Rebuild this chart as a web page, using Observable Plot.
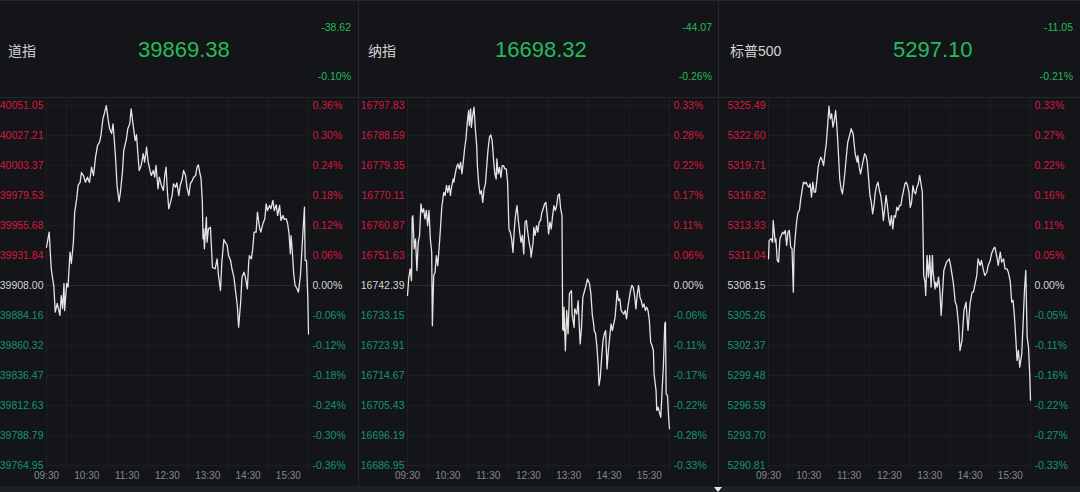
<!DOCTYPE html>
<html><head><meta charset="utf-8">
<script src="https://cdn.jsdelivr.net/npm/d3@7"></script>
<script src="https://cdn.jsdelivr.net/npm/@observablehq/plot@0.6"></script>
<style>
html,body{margin:0;padding:0;background:#131519;}
#root{position:relative;width:1080px;height:492px;overflow:hidden;background:#131519;font-family:"Liberation Sans",Arial,"Noto Sans CJK SC",sans-serif;}
.panel{position:absolute;top:0;height:492px;}
.name{position:absolute;top:50px;transform:translateY(-50%);font-size:14px;color:#d4d4d4;font-family:"Liberation Sans","Noto Sans CJK SC",sans-serif;white-space:nowrap;}
.price{position:absolute;top:50px;transform:translateY(-50%);font-size:22px;color:#27b95a;white-space:nowrap;}
.chg{position:absolute;font-size:10.5px;color:#27b95a;transform:translateY(-50%);white-space:nowrap;}
.line{position:absolute;background:#24272d;}
.panel svg{position:absolute;top:97px;left:0;}
</style></head><body><div id="root"></div>
<script>
// ---------- data ----------
const names = ["道指", "纳指", "标普500"];
const lastPrices = ["39869.38", "16698.32", "5297.10"];
const changes = ["-38.62", "-44.07", "-11.05"];
const changePcts = ["-0.10%", "-0.26%", "-0.21%"];
const timeLabels = ["09:30", "10:30", "11:30", "12:30", "13:30", "14:30", "15:30"];
const hourLines = ["10:00", "11:00", "12:00", "13:00", "14:00", "15:00"];

const djiTicks = [40051.05, 40027.21, 40003.37, 39979.53, 39955.68, 39931.84, 39908.00, 39884.16, 39860.32, 39836.47, 39812.63, 39788.79, 39764.95];
const djiPct = ["0.36%", "0.30%", "0.24%", "0.18%", "0.12%", "0.06%", "0.00%", "-0.06%", "-0.12%", "-0.18%", "-0.24%", "-0.30%", "-0.36%"];
const ixicTicks = [16797.83, 16788.59, 16779.35, 16770.11, 16760.87, 16751.63, 16742.39, 16733.15, 16723.91, 16714.67, 16705.43, 16696.19, 16686.95];
const ixicPct = ["0.33%", "0.28%", "0.22%", "0.17%", "0.11%", "0.06%", "0.00%", "-0.06%", "-0.11%", "-0.17%", "-0.22%", "-0.28%", "-0.33%"];
const spxTicks = [5325.49, 5322.60, 5319.71, 5316.82, 5313.93, 5311.04, 5308.15, 5305.26, 5302.37, 5299.48, 5296.59, 5293.70, 5290.81];
const spxPct = ["0.33%", "0.27%", "0.22%", "0.16%", "0.11%", "0.05%", "0.00%", "-0.05%", "-0.11%", "-0.16%", "-0.22%", "-0.27%", "-0.33%"];

// minutes after 09:30 and index values
const djiMin = [0,4,7,11,13,16,20,22,24,26,27,30,32,35,37,40,42,45,47,50,52,55,58,61,64,67,70,73,76,79,81,84,86,89,92,94,97,99,101,103,105,108,110,113,115,119,121,124,126,129,132,134,136,138,141,144,146,149,151,154,156,159,161,163,166,168,171,174,176,178,180,182,184,187,189,192,194,197,199,202,204,207,209,212,214,217,219,222,224,226,228,230,232,233,234,235,238,239,241,244,247,249,251,254,256,259,261,264,266,269,271,274,276,279,281,284,286,289,291,294,296,299,301,302,305,307,309,312,314,317,319,322,325,327,329,332,334,337,339,342,344,347,349,352,354,357,359,361,363,364,366,368,370,373,375,378,380,382,384,385,387,389,390];
const djiVal = [39938.4,39950.4,39921.5,39906.7,39886.8,39893.7,39884.2,39900.0,39889.7,39909.6,
39888.1,39909.6,39906.7,39934.5,39925.5,39942.4,39966.3,39977.2,39987.5,39989.9,
39997.8,39995.4,39990.1,39994.1,39989.9,40002.0,39995.4,40010.0,40019.3,40021.9,
40027.2,40040.5,40044.4,40051.0,40039.1,40032.5,40028.8,40036.5,40023.2,40007.3,
39987.5,39974.8,39982.1,39998.0,40015.3,40024.6,40032.5,40036.5,40048.4,40035.2,
40023.2,40027.8,40012.7,39999.4,40003.4,40012.7,40006.0,40017.9,40007.3,39999.4,
39995.4,39999.4,39994.1,40003.4,39984.9,39994.1,39987.5,39983.5,39995.4,40002.0,
39982.1,39969.0,39972.9,39979.5,39988.8,39986.1,39989.6,39979.5,39987.5,39992.8,
39999.4,39995.4,39986.1,39979.5,39988.8,39991.4,39994.1,39995.4,40002.0,40003.9,
39998.0,39993.3,39974.2,39945.1,39953.0,39937.2,39962.3,39942.4,39953.0,39954.3,
39922.5,39921.7,39921.3,39929.2,39916.0,39904.0,39926.5,39944.6,39942.4,39939.8,
39931.8,39927.9,39921.3,39914.6,39905.4,39892.1,39874.9,39894.7,39914.6,39918.6,
39914.6,39905.4,39926.5,39931.8,39929.2,39937.2,39950.4,39950.4,39966.3,39954.3,
39950.4,39957.0,39961.0,39972.9,39967.6,39971.6,39969.0,39975.6,39967.6,39972.1,
39963.6,39971.6,39959.7,39963.6,39960.5,39961.0,39957.0,39949.1,39933.2,39947.7,
39934.5,39917.3,39908.0,39905.4,39902.7,39916.0,39934.5,39953.0,39970.2,39927.9,
39927.9,39897.4,39869.38];

const ixicMin = [0,2,4,6,7,8,10,12,14,16,18,20,22,24,26,28,30,32,34,36,37,39,41,43,45,47,49,51,54,56,58,60,62,64,65,68,69,71,73,75,77,79,81,83,85,87,89,91,92,94,95,97,99,101,103,104,106,108,110,112,114,116,118,120,122,124,126,128,130,132,133,135,137,139,141,143,145,147,149,151,153,155,157,159,161,163,165,167,169,171,173,175,177,179,181,183,184,187,188,190,192,194,196,198,200,202,204,206,208,210,212,214,216,218,220,222,224,226,228,230,231,232,233,235,237,239,241,244,245,248,249,252,254,257,259,261,263,265,268,271,273,275,277,278,280,282,284,285,287,289,291,293,295,297,299,301,303,305,307,309,311,312,314,316,318,320,322,324,326,328,330,332,334,336,338,340,342,344,346,348,350,352,354,356,358,360,362,364,366,367,370,371,373,375,377,379,381,383,384,385,387,389,390];
const ixicVal = [16739.3,16744.9,16747.5,16743.9,16763.4,16763.9,16753.7,16756.7,16747.0,16755.7,
16757.8,16767.5,16764.9,16766.0,16762.9,16765.5,16760.8,16765.5,16756.7,16752.6,
16730.0,16745.4,16746.5,16751.6,16748.5,16753.7,16759.8,16766.5,16771.1,16770.1,
16773.2,16771.1,16773.2,16770.1,16772.1,16775.2,16774.2,16776.8,16778.8,16779.8,
16778.3,16780.3,16776.8,16780.3,16784.5,16787.5,16792.7,16796.3,16791.7,16796.8,
16791.1,16794.7,16797.3,16790.6,16785.5,16779.3,16773.7,16770.6,16771.6,16768.0,
16772.1,16773.7,16779.3,16784.5,16788.0,16788.8,16787.0,16781.4,16776.8,16775.2,
16781.4,16776.8,16778.8,16775.7,16779.3,16779.3,16778.3,16778.3,16774.2,16759.8,
16758.8,16756.7,16752.6,16759.8,16764.4,16767.0,16762.4,16758.8,16755.7,16757.8,
16752.1,16761.9,16762.4,16758.8,16755.7,16753.7,16751.1,16755.7,16760.3,16757.8,
16760.8,16758.8,16761.9,16762.4,16764.9,16766.0,16767.5,16768.0,16763.9,16758.3,
16761.9,16759.8,16763.9,16767.0,16765.5,16767.0,16770.1,16770.6,16766.0,16763.9,
16729.0,16728.5,16735.7,16722.3,16734.7,16727.5,16739.8,16740.8,16733.6,16729.5,
16735.2,16733.6,16737.7,16724.4,16729.5,16738.8,16740.3,16741.8,16744.4,16742.9,
16739.8,16733.6,16730.6,16728.5,16727.5,16723.4,16717.2,16711.6,16714.1,16720.3,
16725.4,16727.5,16728.5,16716.7,16722.3,16726.4,16730.6,16728.5,16730.6,16732.6,
16737.7,16740.8,16737.7,16738.3,16734.7,16734.1,16733.6,16734.7,16732.1,16735.7,
16738.3,16740.8,16742.4,16741.8,16739.3,16735.2,16739.8,16742.4,16738.8,16737.7,
16735.7,16736.7,16734.7,16735.7,16734.7,16731.6,16724.9,16723.9,16722.3,16715.2,
16710.0,16703.9,16704.9,16703.3,16701.8,16710.0,16718.2,16730.6,16731.1,16709.0,
16708.5,16700.8,16698.32];

const spxMin = [0,1,4,6,7,10,11,13,15,17,19,21,23,25,27,29,31,33,35,37,38,40,42,44,46,48,50,52,54,56,58,60,62,64,66,68,70,72,74,76,78,80,82,84,86,88,90,92,94,96,98,100,102,104,106,108,110,112,114,116,118,120,122,123,126,127,129,132,133,135,137,139,141,143,145,147,149,151,153,155,157,159,161,163,165,167,169,171,173,175,177,179,181,183,185,187,189,191,193,195,197,199,201,203,205,207,209,211,213,215,217,219,221,223,225,227,229,231,233,234,236,238,240,242,244,245,248,249,251,253,255,257,261,265,269,271,275,278,280,283,285,288,291,294,297,300,303,305,307,310,312,315,317,320,322,325,327,330,332,335,337,340,342,345,347,350,352,355,357,360,362,364,366,368,370,372,374,377,379,381,383,385,387,389,390];
const spxVal = [5310.72,5312.49,5312.65,5312.32,5314.41,5312.32,5312.65,5310.56,5310.40,5312.65,
5312.97,5313.29,5313.13,5313.45,5312.00,5313.29,5313.45,5311.84,5311.69,5307.51,
5311.36,5312.97,5314.41,5315.21,5315.38,5316.50,5317.30,5318.10,5317.95,5318.10,
5317.78,5317.62,5317.95,5316.66,5318.10,5317.14,5317.14,5318.27,5319.55,5320.19,
5320.51,5320.19,5319.71,5320.84,5321.80,5323.56,5325.42,5324.21,5324.69,5323.40,
5324.05,5325.01,5323.25,5320.99,5318.43,5317.47,5316.98,5317.95,5319.23,5320.67,
5321.95,5322.44,5322.92,5323.25,5322.76,5322.12,5320.84,5320.03,5320.67,5319.55,
5318.91,5319.55,5320.19,5320.84,5320.67,5320.03,5318.43,5316.82,5316.17,5315.06,
5315.86,5317.14,5317.78,5318.10,5317.30,5316.82,5315.86,5314.41,5315.54,5316.82,
5315.86,5314.58,5313.93,5314.89,5313.61,5314.89,5314.73,5315.69,5315.38,5315.86,
5315.86,5316.66,5317.30,5317.95,5318.10,5317.78,5317.14,5315.69,5316.17,5317.78,
5317.14,5316.98,5317.62,5317.95,5318.75,5317.95,5317.14,5309.11,5308.47,5307.19,
5311.04,5308.95,5311.04,5307.99,5311.04,5309.43,5307.83,5308.47,5307.99,5308.95,
5307.83,5305.26,5309.60,5310.40,5310.72,5310.08,5308.47,5306.54,5306.22,5304.30,
5301.89,5302.85,5305.74,5306.54,5303.82,5306.39,5307.51,5307.51,5308.15,5309.11,
5310.72,5310.08,5310.56,5309.60,5309.11,5309.43,5310.08,5310.56,5311.20,5311.69,
5311.84,5310.88,5310.08,5311.36,5310.40,5310.72,5309.76,5309.76,5309.43,5308.47,
5306.54,5306.71,5305.26,5303.17,5300.93,5301.89,5300.28,5301.57,5304.46,5307.67,
5309.60,5303.17,5302.21,5299.32,5297.10];

// ---------- layout / style ----------
const RED = "#d8173f", GREEN = "#16956a", ZERO = "#d4d4d4", AXIS = "#85888e";
const GRID = "#1c1f24", ZGRID = "#2a2d33";
const layout = [
  {left: 0,   w: 358, ml: 46, mr: 50, nameX: 8,  priceX: 138, chgR: 7},
  {left: 359, w: 359, ml: 48, mr: 49, nameX: 9,  priceX: 136, chgR: 6},
  {left: 719, w: 361, ml: 49, mr: 50, nameX: 11, priceX: 174, chgR: 7}
];
const series = [
  {ticks: djiTicks, pct: djiPct, min: djiMin, val: djiVal},
  {ticks: ixicTicks, pct: ixicPct, min: ixicMin, val: ixicVal},
  {ticks: spxTicks, pct: spxPct, min: spxMin, val: spxVal}
];
const toMin = s => { const [h, m] = s.split(":").map(Number); return h * 60 + m - 570; };

const root = document.getElementById("root");
function addDiv(parent, cls, css, text) {
  const d = document.createElement("div");
  if (cls) d.className = cls;
  Object.assign(d.style, css || {});
  if (text != null) d.textContent = text;
  parent.appendChild(d);
  return d;
}

series.forEach((s, i) => {
  const L = layout[i];
  const p = addDiv(root, "panel", {left: L.left + "px", width: L.w + "px"});
  addDiv(p, "name", {left: L.nameX + "px"}, names[i]);
  addDiv(p, "price", {left: L.priceX + "px"}, lastPrices[i]);
  addDiv(p, "chg", {right: L.chgR + "px", top: "27px"}, changes[i]);
  addDiv(p, "chg", {right: L.chgR + "px", top: "76px"}, changePcts[i]);

  const prev = s.ticks[6];
  const pctOf = new Map(s.ticks.map((t, k) => [t, s.pct[k]]));
  const up = s.ticks.filter(t => t > prev), dn = s.ticks.filter(t => t < prev);
  const data = s.min.map((m, k) => ({m, v: s.val[k]}));
  const fmt = d => d.toFixed(2);

  const chart = Plot.plot({
    width: L.w, height: 395,
    marginTop: 8, marginBottom: 27, marginLeft: L.ml, marginRight: L.mr,
    x: {domain: [0, 390], axis: null},
    y: {domain: [s.ticks[12], s.ticks[0]], axis: null},
    style: {background: "transparent", fontFamily: "'Liberation Sans', Arial, sans-serif", fontSize: "10.5px", overflow: "visible"},
    marks: [
      Plot.ruleY(s.ticks, {stroke: GRID, strokeWidth: 1}),
      Plot.ruleX(hourLines.map(toMin), {stroke: GRID, strokeWidth: 1, insetTop: -7, insetBottom: -5}),
      Plot.ruleX([0, 390], {stroke: GRID, strokeWidth: 1, insetTop: -7, insetBottom: -5}),
      Plot.ruleY([prev], {stroke: ZGRID, strokeWidth: 1}),
      Plot.text(up, {y: d => d, text: fmt, frameAnchor: "left", textAnchor: "end", dx: -3, fill: RED}),
      Plot.text([prev], {y: d => d, text: fmt, frameAnchor: "left", textAnchor: "end", dx: -3, fill: ZERO}),
      Plot.text(dn, {y: d => d, text: fmt, frameAnchor: "left", textAnchor: "end", dx: -3, fill: GREEN}),
      Plot.text(up, {y: d => d, text: d => pctOf.get(d), frameAnchor: "right", textAnchor: "start", dx: 4, fill: RED}),
      Plot.text([prev], {y: d => d, text: d => pctOf.get(d), frameAnchor: "right", textAnchor: "start", dx: 4, fill: ZERO}),
      Plot.text(dn, {y: d => d, text: d => pctOf.get(d), frameAnchor: "right", textAnchor: "start", dx: 4, fill: GREEN}),
      Plot.text(timeLabels, {x: d => toMin(d), text: d => d, frameAnchor: "bottom", dy: 13, fill: AXIS, fontSize: 10}),
      Plot.line(data, {x: "m", y: "v", stroke: "#e4e4e4", strokeWidth: 1.3})
    ]
  });
  p.appendChild(chart);
});

// frame lines
addDiv(root, "line", {left: "0px", top: "0px", width: "1080px", height: "1px"});
addDiv(root, "line", {left: "0px", top: "97px", width: "1080px", height: "1px"});
addDiv(root, "line", {left: "358px", top: "0px", width: "1px", height: "486px"});
addDiv(root, "line", {left: "718px", top: "0px", width: "1px", height: "486px"});
addDiv(root, null, {position: "absolute", left: "0px", top: "486px", width: "1080px", height: "6px", background: "#1d2025"});
addDiv(root, null, {position: "absolute", left: "714px", top: "487px", width: "0", height: "0",
  borderLeft: "4px solid transparent", borderRight: "4px solid transparent", borderTop: "5px solid #e8e8e8"});
</script></body></html>
